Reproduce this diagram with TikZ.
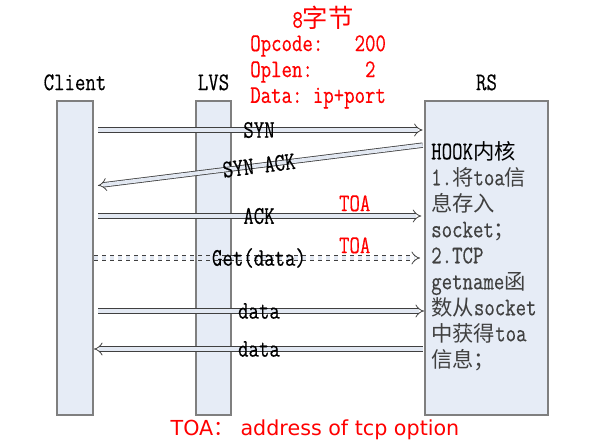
\documentclass[tikz,border=0pt]{standalone}
\usepackage{fontspec}
\setmainfont{Latin Modern Mono}[FakeStretch=0.8, FakeBold=0.4]
\newfontfamily\cjk{Noto Sans CJK SC}
\newfontfamily\capfont{DejaVu Sans}
\usetikzlibrary{arrows.meta,positioning}
\definecolor{lanefill}{HTML}{E6ECF6}
\definecolor{laneline}{HTML}{7F7F7F}
\definecolor{msgline}{HTML}{404040}
\definecolor{msgfill}{HTML}{E2E8F2}
\definecolor{rstext}{HTML}{404040}
\begin{document}
\begin{tikzpicture}[x=0.75pt, y=-0.75pt, node distance={7pt},
	lane/.style = {draw=laneline, line width=1.5pt, fill=lanefill, minimum height=235.5pt, inner sep=0pt},
	msg/.style = {draw=msgline, line width=0.6pt, double=msgfill, double distance=2.8pt, -{Implies[scale=1.8]}},
	lbl/.style = {font=\fontsize{19}{19}\selectfont, inner sep=0pt},
	toa/.style = {lbl, text=red}]
	\useasboundingbox (0,0) rectangle (600,442);
	\node[lane, minimum width=27pt] (client) at (75,258) {};
	\node[lane, minimum width=26.25pt] (lvs) at (213.5,258) {};
	\node[lane, minimum width=92.25pt] (rs) at (486.5,258) {};
	\node[lbl, above=of client] (client-t) {Client};
	\node[lbl, above=of lvs] (lvs-t) {LVS};
	\node[lbl, above=of rs] (rs-t) {RS};
	% option header
	\node[toa] (bytes) at (323,18) {8{\cjk 字节}};
	\node[toa, anchor=west] (opcode) at (250,46) {Opcode:\ \ \ 200};
	\node[toa, anchor=west] (oplen) at (250,72) {Oplen:\ \ \ \ \ 2};
	\node[toa, anchor=west] (data) at (250,98) {Data:\ ip+port};
	% message ends
	\coordinate (syn-a) at (client.east |- 0,130);
	\coordinate (syn-b) at (rs.west |- 0,130);
	\coordinate (synack-a) at (rs.west |- 0,145);
	\coordinate (synack-b) at (client.east |- 0,186);
	\coordinate (ack-a) at (client.east |- 0,216);
	\coordinate (ack-b) at (rs.west |- 0,216);
	\coordinate (get-a) at (client.east |- 0,258);
	\coordinate (get-b) at (rs.west |- 0,258);
	\coordinate (dat-a) at (client.east |- 0,311);
	\coordinate (dat-b) at (rs.west |- 0,311);
	\coordinate (ret-a) at (rs.west |- 0,349);
	\coordinate (ret-b) at (client.east |- 0,349);
	\draw[msg, shorten <=3pt, shorten >=1pt] (syn-a) -- node[lbl] {SYN} (syn-b);
	\draw[msg, shorten <=1pt, shorten >=3pt] (synack-a) -- node[lbl, sloped] {SYN ACK} (synack-b);
	\draw[msg, shorten <=3pt, shorten >=2pt] (ack-a) -- node[lbl] {ACK} node[toa, pos=0.79, yshift=9.5pt] {TOA} (ack-b);
	\draw[msg, dashed, shorten >=3pt] (get-a) -- node[lbl] {Get(data)} node[toa, pos=0.79, yshift=9.5pt] {TOA} (get-b);
	\draw[msg, shorten <=3pt] (dat-a) -- node[lbl] {data} (dat-b);
	\draw[msg, shorten <=1pt] (ret-a) -- node[lbl] {data} (ret-b);
	% kernel hook notes
	\node[lbl, anchor=north west, align=left, text=rstext, font=\fontsize{19}{19.5}\selectfont] (hook) at (431,141)
		{\textcolor{black}{HOOK{\cjk\fontsize{16}{16}\selectfont 内核}}\\1.{\cjk\fontsize{16}{16}\selectfont 将}toa{\cjk\fontsize{16}{16}\selectfont 信}\\{\cjk\fontsize{16}{16}\selectfont 息存入}\\socket{\cjk\fontsize{16}{16}\selectfont ；}\\2.TCP\\getname{\cjk\fontsize{16}{16}\selectfont 函}\\{\cjk\fontsize{16}{16}\selectfont 数从}socket\\{\cjk\fontsize{16}{16}\selectfont 中获得}toa\\{\cjk\fontsize{16}{16}\selectfont 信息；}};
	\node[text=red, inner sep=0pt, font=\capfont\fontsize{15.5}{18}\selectfont] (note) at (315,430) {TOA{\cjk ：} address of tcp option};
\end{tikzpicture}
\end{document}
